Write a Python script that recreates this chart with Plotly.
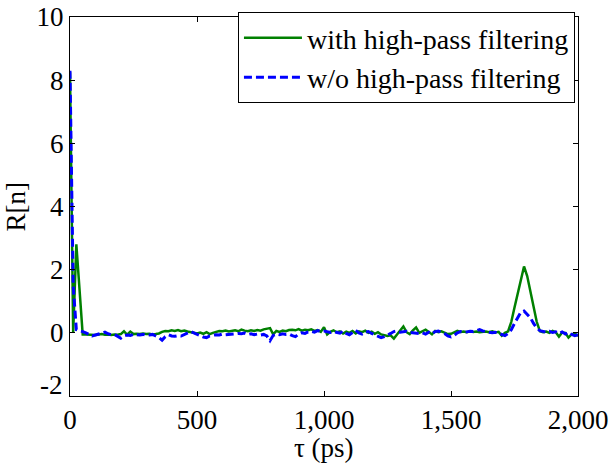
import plotly.graph_objects as go

# Sample grid (ps), step 12.5 ps
tau = [12.5 * i for i in range(161)]

green_with_hp = [
    8.25, 0.0, 2.8, 1.3, -0.05,
    -0.05, -0.06, -0.05, -0.07, -0.05, -0.04, -0.06, -0.05, -0.07, -0.05, -0.06,
    -0.04, 0.05, -0.06, 0.04, -0.04, -0.03, -0.04, -0.02, -0.04, -0.03, -0.05, -0.04,
    -0.02, 0.03, 0.06, 0.05, 0.08, 0.06, 0.09, 0.05, 0.07, 0.04, 0.02, 0.0,
    -0.02, 0.01, -0.03, 0.02, -0.04, 0.0, 0.03, 0.06, 0.05, 0.07, 0.04, 0.06,
    0.08, 0.05, 0.1, 0.07, 0.05, 0.08, 0.06, 0.09, 0.07, 0.11, 0.12, 0.15,
    -0.05, 0.06, 0.03, 0.07, 0.05, 0.09, 0.1, 0.08, 0.12, 0.07, 0.1, 0.08,
    0.11, 0.06, 0.09, 0.03,
    0.18, -0.05, 0.03, 0.08, 0.02, 0.05, -0.02, 0.04, 0.0, 0.06, -0.02, 0.05,
    0.02, 0.07, 0.0, 0.04, -0.03, 0.02, -0.05, -0.08, -0.1, -0.08, -0.18, -0.05,
    0.08, 0.2, 0.02, -0.04, 0.08, 0.17, 0.0, 0.05, 0.1, 0.03, -0.05, 0.06,
    0.02, 0.05,
    0.0, -0.04, -0.03, 0.02, 0.06, 0.03, 0.04, 0.02, 0.05, 0.03, 0.04, 0.02,
    0.03, 0.04, 0.02, 0.05, 0.01, 0.03, -0.09, 0.0, 0.05, 0.35, 0.8, 1.25,
    1.7, 2.1, 1.8, 1.3, 0.8, 0.35, 0.05, 0.02, 0.04, 0.0, 0.06, 0.02,
    -0.12, 0.01, 0.0, -0.15, -0.05, -0.02, -0.1,
]

blue_without_hp = [
    8.3, 1.5, 0.1, 0.08, 0.04,
    0.0, -0.06, -0.1, -0.07, -0.04, -0.02, 0.02, -0.03, -0.06, -0.05, -0.12,
    -0.17, -0.1, -0.07, -0.08, -0.05, -0.06, -0.07, -0.05, -0.08, -0.07, -0.05, -0.1,
    -0.15, -0.23, -0.12, -0.06, -0.1, -0.11, -0.09, -0.1, -0.05, 0.0, 0.04, 0.0,
    -0.05, -0.1, -0.13, -0.15, -0.1, -0.08, -0.06, -0.07, -0.04, -0.06, -0.05, -0.03,
    -0.04, -0.02, -0.03, -0.01, -0.05, -0.03, -0.06, -0.04, -0.07, -0.05, -0.1, -0.25,
    -0.08, -0.04, -0.06, -0.03, -0.05, -0.04, -0.09, -0.12, -0.04, 0.0, -0.02, 0.03,
    0.05, 0.02, 0.07, 0.04,
    0.06, 0.03, 0.01, 0.04, 0.02, -0.01, 0.06, -0.02, -0.06, 0.02, 0.08, 0.0,
    -0.04, 0.02, 0.04, -0.02, -0.06, -0.12, -0.15, -0.12, -0.08, -0.02, 0.04, 0.06,
    0.02, 0.04, 0.05, 0.01, 0.0, -0.03, -0.02, 0.0, -0.04, 0.02, -0.03, 0.04,
    0.06, 0.02,
    -0.02, -0.1, -0.13, -0.08, 0.0, 0.04, 0.02, 0.03, 0.05, 0.04, 0.07, 0.1,
    0.06, 0.04, 0.03, 0.0, 0.02, -0.02, -0.05, -0.09, -0.02, 0.1, 0.3, 0.5,
    0.65, 0.69, 0.6, 0.48, 0.3, 0.15, 0.07, 0.04, 0.02, 0.05, 0.01, 0.03,
    -0.02, 0.03, -0.04, 0.02, -0.05, -0.09, -0.06,
]

x_ticks = [0, 500, 1000, 1500, 2000]
x_tick_labels = ["0", "500", "1,000", "1,500", "2,000"]
y_ticks = [-2, 0, 2, 4, 6, 8, 10]
y_tick_labels = ["", "0", "2", "4", "6", "8", "10"]

FONT = "Liberation Serif, Times New Roman, serif"
FS = 27

fig = go.Figure()
fig.add_trace(go.Scatter(
    x=tau, y=green_with_hp, mode="lines", name="with high-pass filtering",
    line=dict(color="#008000", width=2.5),
))
fig.add_trace(go.Scatter(
    x=tau, y=blue_without_hp, mode="lines", name="w/o high-pass filtering",
    line=dict(color="#0000FF", width=3, dash="8px,4px"),
))

axis_common = dict(
    showline=True, linecolor="black", linewidth=1, mirror="allticks",
    ticks="inside", ticklen=5, tickcolor="black", showgrid=False, zeroline=False,
    tickfont=dict(family=FONT, size=FS, color="black"), automargin=False,
    ticklabeloverflow="allow",
)

fig.update_layout(
    width=609, height=468,
    margin=dict(l=70, r=31, t=13, b=72),
    paper_bgcolor="white", plot_bgcolor="white",
    font=dict(family=FONT, size=FS, color="black"),
    xaxis=dict(range=[0, 2000.01], tickvals=x_ticks, ticktext=x_tick_labels,
               **axis_common),
    yaxis=dict(range=[-2.0001, 10.0001], tickvals=y_ticks, ticktext=y_tick_labels,
               **axis_common),
    legend=dict(
        x=0.994, y=1.013, xanchor="right", yanchor="top",
        bgcolor="white", bordercolor="black", borderwidth=1,
        font=dict(family=FONT, size=28, color="black"),
        tracegroupgap=0, itemwidth=58,
    ),
    showlegend=True,
)

fig.add_annotation(
    x=0, y=-2, xref="paper", yref="y", text="-2", showarrow=False,
    xanchor="right", yanchor="middle", xshift=-5, yshift=11,
    font=dict(family=FONT, size=FS, color="black"),
)
fig.add_annotation(
    x=0.5, y=0, xref="paper", yref="paper", text="τ (ps)", showarrow=False,
    xanchor="center", yanchor="middle", yshift=-52,
    font=dict(family=FONT, size=FS, color="black"),
)
fig.add_annotation(
    x=0, y=0.5, xref="paper", yref="paper", text="R[n]", showarrow=False,
    xanchor="center", yanchor="middle", xshift=-55, textangle=-90,
    font=dict(family=FONT, size=FS, color="black"),
)

fig.write_html(
    "out.html",
    config={"displayModeBar": False},
    post_script="document.body.style.margin='0';document.body.style.padding='0';",
)
